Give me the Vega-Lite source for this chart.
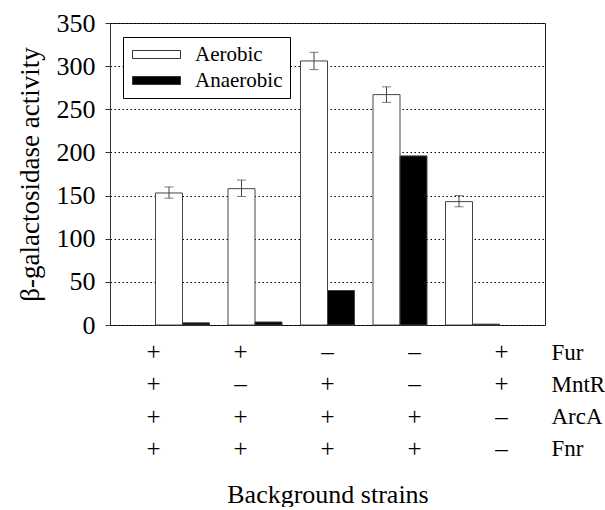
{
  "$schema": "https://vega.github.io/schema/vega-lite/v6.json",
  "padding": {"left": 15, "top": 9, "right": 0, "bottom": 0},
  "background": "white",
  "bounds": "flush",
  "spacing": 11,
  "config": {
    "font": "Liberation Serif, Times New Roman, Times, serif",
    "view": {"stroke": "#222", "strokeWidth": 1},
    "axis": {"labelFont": "Liberation Serif, Times New Roman, Times, serif", "titleFont": "Liberation Serif, Times New Roman, Times, serif", "labelColor": "black", "titleColor": "black", "titleFontWeight": "normal"},
    "legend": {"labelFont": "Liberation Serif, Times New Roman, Times, serif", "labelColor": "black"}
  },
  "datasets": {
    "bars": [
      {"strain": "WT", "condition": "Aerobic", "value": 153},
      {"strain": "WT", "condition": "Anaerobic", "value": 2.5},
      {"strain": "mntR", "condition": "Aerobic", "value": 158},
      {"strain": "mntR", "condition": "Anaerobic", "value": 3.5},
      {"strain": "fur", "condition": "Aerobic", "value": 306},
      {"strain": "fur", "condition": "Anaerobic", "value": 40},
      {"strain": "fur mntR", "condition": "Aerobic", "value": 267},
      {"strain": "fur mntR", "condition": "Anaerobic", "value": 196},
      {"strain": "arcA fnr", "condition": "Aerobic", "value": 143},
      {"strain": "arcA fnr", "condition": "Anaerobic", "value": 1}
    ],
    "errors": [
      {"strain": "WT", "condition": "Aerobic", "lo": 147, "hi": 160},
      {"strain": "mntR", "condition": "Aerobic", "lo": 149, "hi": 168},
      {"strain": "fur", "condition": "Aerobic", "lo": 296, "hi": 316},
      {"strain": "fur mntR", "condition": "Aerobic", "lo": 258, "hi": 276},
      {"strain": "arcA fnr", "condition": "Aerobic", "lo": 137, "hi": 150}
    ],
    "table": [
      {"strain": "WT", "gene": "Fur", "sign": "+"},
      {"strain": "mntR", "gene": "Fur", "sign": "+"},
      {"strain": "fur", "gene": "Fur", "sign": "–"},
      {"strain": "fur mntR", "gene": "Fur", "sign": "–"},
      {"strain": "arcA fnr", "gene": "Fur", "sign": "+"},
      {"strain": "WT", "gene": "MntR", "sign": "+"},
      {"strain": "mntR", "gene": "MntR", "sign": "–"},
      {"strain": "fur", "gene": "MntR", "sign": "+"},
      {"strain": "fur mntR", "gene": "MntR", "sign": "–"},
      {"strain": "arcA fnr", "gene": "MntR", "sign": "+"},
      {"strain": "WT", "gene": "ArcA", "sign": "+"},
      {"strain": "mntR", "gene": "ArcA", "sign": "+"},
      {"strain": "fur", "gene": "ArcA", "sign": "+"},
      {"strain": "fur mntR", "gene": "ArcA", "sign": "+"},
      {"strain": "arcA fnr", "gene": "ArcA", "sign": "–"},
      {"strain": "WT", "gene": "Fnr", "sign": "+"},
      {"strain": "mntR", "gene": "Fnr", "sign": "+"},
      {"strain": "fur", "gene": "Fnr", "sign": "+"},
      {"strain": "fur mntR", "gene": "Fnr", "sign": "+"},
      {"strain": "arcA fnr", "gene": "Fnr", "sign": "–"}
    ]
  },
  "vconcat": [
    {
      "width": 435,
      "height": 302,
      "encoding": {
        "x": {"field": "strain", "type": "nominal", "scale": {"domain": ["WT", "mntR", "fur", "fur mntR", "arcA fnr"], "paddingInner": 0, "paddingOuter": 0.5}, "axis": null},
        "xOffset": {"field": "condition", "type": "nominal", "scale": {"domain": ["Aerobic", "Anaerobic"], "paddingInner": 0, "paddingOuter": 0.343}}
      },
      "layer": [
        {
          "data": {"name": "bars"},
          "mark": {"type": "bar", "stroke": "#444", "strokeWidth": 1},
          "encoding": {
            "y": {"field": "value", "type": "quantitative", "scale": {"domain": [0, 350], "nice": false},
              "axis": {"values": [0, 50, 100, 150, 200, 250, 300, 350], "grid": true, "gridDash": [1.5, 2.5], "gridWidth": 1.2, "gridColor": "black", "gridOpacity": 1, "tickSize": 5, "tickColor": "#333", "domainColor": "#333", "labelFontSize": 26, "labelPadding": 10, "title": "β-galactosidase activity", "titleFontSize": 27, "titlePadding": 12}},
            "fill": {"field": "condition", "type": "nominal", "scale": {"domain": ["Aerobic", "Anaerobic"], "range": ["white", "black"]},
              "legend": {"title": null, "orient": "none", "legendX": 13, "legendY": 14, "symbolType": "M-3,-0.5H3V0.5H-3Z", "symbolSize": 256, "symbolOffset": 16, "symbolStrokeColor": "#333", "symbolStrokeWidth": 1, "labelFontSize": 21, "labelOffset": 28, "padding": 7, "strokeColor": "black", "fillColor": "white", "rowPadding": 4}}
          }
        },
        {
          "data": {"name": "errors"},
          "mark": {"type": "rule", "color": "#444", "strokeWidth": 1},
          "encoding": {
            "y": {"field": "lo", "type": "quantitative"},
            "y2": {"field": "hi"}
          }
        },
        {
          "data": {"name": "errors"},
          "mark": {"type": "tick", "color": "#444", "size": 9, "thickness": 1},
          "encoding": {"y": {"field": "lo", "type": "quantitative"}}
        },
        {
          "data": {"name": "errors"},
          "mark": {"type": "tick", "color": "#444", "size": 9, "thickness": 1},
          "encoding": {"y": {"field": "hi", "type": "quantitative"}}
        }
      ]
    },
    {
      "width": 435,
      "height": 129,
      "view": {"stroke": null},
      "data": {"name": "table"},
      "mark": {"type": "text", "fontSize": 25, "font": "Liberation Serif, Times New Roman, Times, serif", "color": "black", "align": "center", "baseline": "middle"},
      "encoding": {
        "x": {"field": "strain", "type": "nominal", "scale": {"domain": ["WT", "mntR", "fur", "fur mntR", "arcA fnr"], "paddingInner": 0, "paddingOuter": 0.5},
          "axis": {"labels": false, "ticks": false, "domain": false, "grid": false, "title": "Background strains", "titleFontSize": 26, "titlePadding": 16}},
        "y": {"field": "gene", "type": "nominal", "scale": {"domain": ["Fur", "MntR", "ArcA", "Fnr"], "paddingInner": 0, "paddingOuter": 0},
          "axis": {"orient": "right", "title": null, "ticks": false, "domain": false, "grid": false, "labelFontSize": 23, "labelPadding": 6, "labelAlign": "left"}},
        "text": {"field": "sign"}
      }
    }
  ]
}
